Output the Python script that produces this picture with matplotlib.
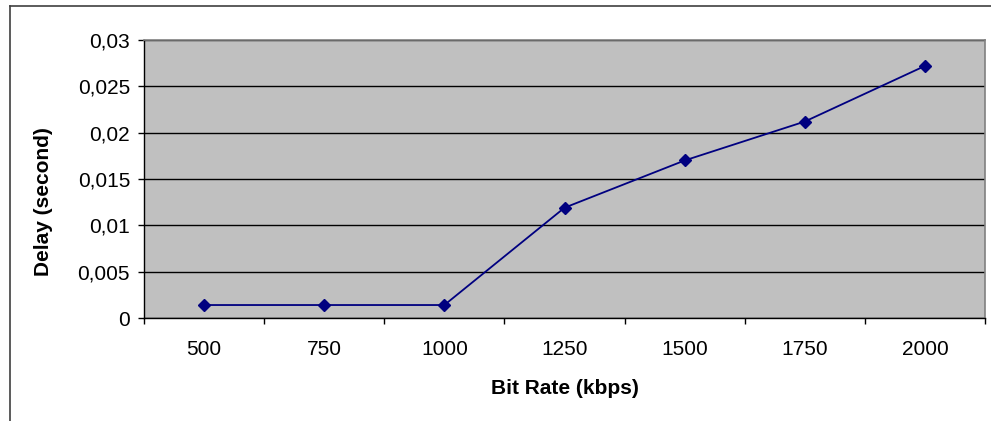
import matplotlib

matplotlib.use("Agg")
import matplotlib.pyplot as plt
from matplotlib.lines import Line2D
from matplotlib.ticker import FixedLocator, FuncFormatter

# data
bit_rates = ["500", "750", "1000", "1250", "1500", "1750", "2000"]
delays = [0.0014, 0.0014, 0.0014, 0.0119, 0.0170, 0.0212, 0.0272]
y_ticks = [0, 0.005, 0.01, 0.015, 0.02, 0.025, 0.03]

plt.rcParams["font.family"] = ["Liberation Sans", "DejaVu Sans"]

W, H = 991, 421
fig = plt.figure(figsize=(W / 100, H / 100), dpi=100)
fig.patch.set_facecolor("white")

# chart-area frame (only top and left edges are visible in the picture)
fig.add_artist(Line2D([10 / W, 10 / W], [0, 1 - 6 / H], color="#404040", lw=1.2))
fig.add_artist(Line2D([10 / W, 1], [1 - 6 / H, 1 - 6 / H], color="#404040", lw=1.2))

ax = fig.add_axes([144 / W, 1 - 318 / H, (985 - 144) / W, (318 - 40) / H])
ax.set_facecolor("#c0c0c0")

x = list(range(len(bit_rates)))
ax.plot(x, delays, color="#000080", lw=1.3, marker="D", markersize=6.5,
        markerfacecolor="#000080", markeredgecolor="#000080", zorder=3)

ax.set_xlim(-0.5, len(bit_rates) - 0.5)
ax.set_ylim(0, 0.03)

ax.set_yticks(y_ticks)
ax.yaxis.set_major_formatter(FuncFormatter(lambda v, p: f"{v:g}".replace(".", ",")))
ax.grid(axis="y", color="black", lw=1.0)
ax.set_axisbelow(True)

ax.set_xticks(x)
ax.set_xticklabels(bit_rates)
ax.xaxis.set_minor_locator(FixedLocator([i - 0.5 for i in range(len(bit_rates) + 1)]))
ax.tick_params(axis="x", which="major", length=0, pad=16, labelsize=15)
ax.tick_params(axis="x", which="minor", length=4, width=1, color="black", direction="out")
ax.tick_params(axis="y", length=4, width=1, color="black", pad=6, labelsize=15)

for side in ["top", "right"]:
    ax.spines[side].set_color("#808080")
    ax.spines[side].set_linewidth(1.2)
for side in ["left", "bottom"]:
    ax.spines[side].set_color("black")
    ax.spines[side].set_linewidth(1.0)

ax.set_xlabel("Bit Rate (kbps)", fontsize=15, fontweight="bold", labelpad=14)
ax.set_ylabel("Delay (second)", fontsize=15, fontweight="bold")
ax.yaxis.set_label_coords((53 - 144) / 841, (318 - 202) / 278)

fig.savefig("out.png", dpi=100)
